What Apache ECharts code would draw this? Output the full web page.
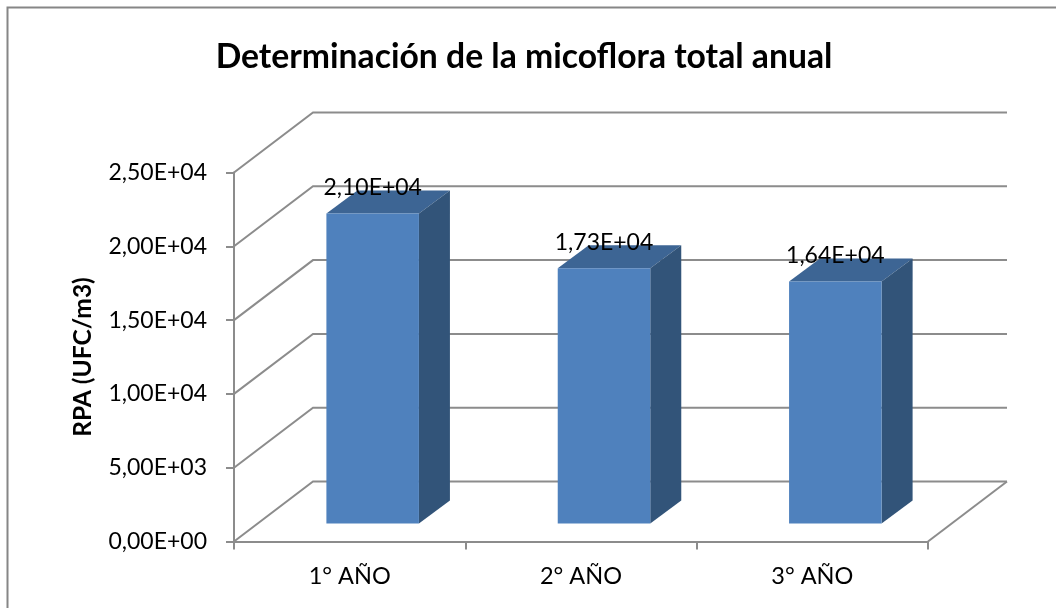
<!DOCTYPE html>
<html><head><meta charset="utf-8">
<style>html,body{margin:0;padding:0;background:#fff}#c{width:1056px;height:608px}</style>
<script src="https://cdn.jsdelivr.net/npm/echarts@6/dist/echarts.min.js"></script>
</head><body><div id="c"></div>
<script>
var categories = ['1° AÑO', '2° AÑO', '3° AÑO'];
var values = [21000, 17300, 16400];
var valueLabels = ['2,10E+04', '1,73E+04', '1,64E+04'];
var tickValues = [0, 5000, 10000, 15000, 20000, 25000];
var tickLabels = ['0,00E+00', '5,00E+03', '1,00E+04', '1,50E+04', '2,00E+04', '2,50E+04'];
var titleText = 'Determinación de la micoflora total anual';
var yName = 'RPA (UFC/m3)';

var FONT = 'Lato';
var GRAY = '#8c8c8c';
var WALL_DX = 79, WALL_DY = -60;
var BASE_DX = 23, BASE_DY = -18;
var DEPTH_DX = 31, DEPTH_DY = -23;
var BAR_RATIO = 0.4;

function wallItem(params, api) {
  var cs = params.coordSys;
  var v = api.value(0);
  var y = api.coord([0, v])[1];
  var x0 = cs.x, x1 = cs.x + cs.width;
  var children = [{
    type: 'polyline',
    shape: { points: [[x0, y], [x0 + WALL_DX, y + WALL_DY], [x1 + WALL_DX, y + WALL_DY]] },
    style: { fill: null, stroke: GRAY, lineWidth: 2 }
  }];
  if (v === 0) {
    children.push({
      type: 'line',
      shape: { x1: x1, y1: y, x2: x1 + WALL_DX, y2: y + WALL_DY },
      style: { stroke: GRAY, lineWidth: 2 }
    });
  }
  return { type: 'group', children: children };
}

function barItem(params, api) {
  var i = api.value(0);
  var bottom = api.coord([i, 0]);
  var top = api.coord([i, api.value(1)]);
  var w = api.size([1, 0])[0] * BAR_RATIO;
  var l = bottom[0] - w / 2 + BASE_DX, r = l + w;
  var by = bottom[1] + BASE_DY, ty = top[1] + BASE_DY;
  return {
    type: 'group',
    children: [
      { type: 'polygon', shape: { points: [[l, ty], [r, ty], [r + DEPTH_DX, ty + DEPTH_DY], [l + DEPTH_DX, ty + DEPTH_DY]] },
        style: { fill: '#3d6594' } },
      { type: 'polygon', shape: { points: [[r, ty], [r + DEPTH_DX, ty + DEPTH_DY], [r + DEPTH_DX, by + DEPTH_DY], [r, by]] },
        style: { fill: '#325479' } },
      { type: 'rect', shape: { x: l, y: ty, width: w, height: by - ty },
        style: { fill: '#4f81bd' } }
    ]
  };
}

function labelItem(params, api) {
  var i = api.value(0);
  var top = api.coord([i, api.value(1)]);
  return {
    type: 'text',
    style: {
      x: top[0] + BASE_DX, y: top[1] + BASE_DY - 25.5,
      text: valueLabels[params.dataIndex],
      font: '23px ' + FONT, fill: '#000',
      textAlign: 'center', textVerticalAlign: 'middle'
    }
  };
}

var chart = echarts.init(document.getElementById('c'), null, { renderer: 'canvas' });
chart.setOption({
  animation: false,
  backgroundColor: '#fff',
  title: {
    text: titleText, left: 519, top: 35, textAlign: 'center',
    textStyle: { fontFamily: FONT, fontWeight: 'bold', fontSize: 33.7, color: '#000' }
  },
  graphic: [{
    type: 'polyline', silent: true, z: -10,
    shape: { points: [[7.5, 608], [7.5, 7.5], [1056, 7.5]] },
    style: { fill: null, stroke: '#868686', lineWidth: 2 }
  }],
  grid: { left: 234, right: 128, top: 172.5, bottom: 66.5 },
  xAxis: {
    type: 'category', data: categories,
    axisLine: { lineStyle: { color: GRAY, width: 2 } },
    axisTick: { show: true, length: 8, alignWithLabel: false, lineStyle: { color: GRAY, width: 2 } },
    axisLabel: { fontFamily: FONT, fontSize: 23.5, color: '#000', margin: 23 }
  },
  yAxis: {
    type: 'value', min: 0, max: 25000, interval: 5000,
    name: yName, nameLocation: 'middle', nameGap: 138, nameRotate: 90,
    nameTextStyle: { fontFamily: FONT, fontWeight: 'bold', fontSize: 24.5, color: '#000' },
    axisLine: { show: true, lineStyle: { color: GRAY, width: 2 } },
    axisTick: { show: true, length: 8, lineStyle: { color: GRAY, width: 2 } },
    axisLabel: {
      fontFamily: FONT, fontSize: 23, color: '#000', margin: 27, padding: [8, 0, 0, 0],
      formatter: function (v) { return tickLabels[tickValues.indexOf(v)]; }
    },
    splitLine: { show: false }
  },
  series: [
    { type: 'custom', name: 'walls', renderItem: wallItem, clip: false, silent: true, z: 1,
      encode: { y: 0 }, data: tickValues.map(function (v) { return [v]; }) },
    { type: 'custom', name: 'bars', renderItem: barItem, clip: false, z: 2,
      encode: { x: 0, y: 1 }, data: values.map(function (v, i) { return [i, v]; }) },
    { type: 'custom', name: 'labels', renderItem: labelItem, clip: false, z: 3,
      encode: { x: 0, y: 1 }, data: values.map(function (v, i) { return [i, v]; }) }
  ]
});
</script></body></html>
